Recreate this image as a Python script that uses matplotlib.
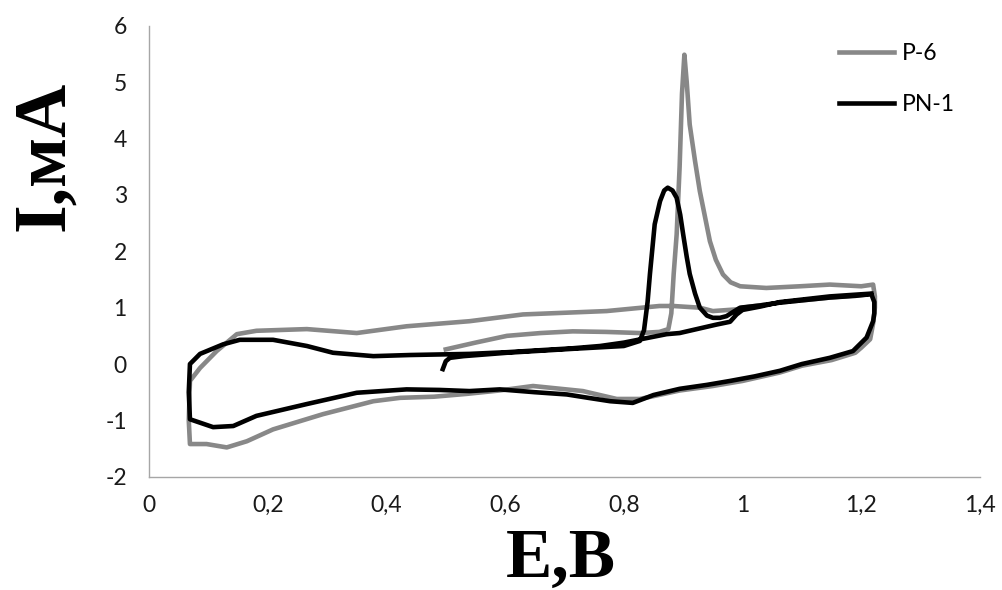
import matplotlib
matplotlib.use("Agg")
import matplotlib.pyplot as plt
from matplotlib.ticker import FuncFormatter

# P-6 (gray): first anodic scan with the peak, cathodic return, second scan
p6_E = [0.50, 0.55, 0.603, 0.66, 0.714, 0.77, 0.827, 0.86, 0.875, 0.880, 0.884, 0.889, 0.894,
        0.898, 0.902, 0.906, 0.911, 0.92, 0.928, 0.945, 0.955, 0.967, 0.98, 0.996, 1.04, 1.097,
        1.147, 1.20, 1.22,
        1.223, 1.223, 1.22, 1.215, 1.20, 1.19, 1.15, 1.10, 1.063, 1.0, 0.95, 0.894, 0.85, 0.827,
        0.788, 0.731, 0.647, 0.59, 0.535, 0.48, 0.423, 0.378, 0.293, 0.209, 0.165, 0.131, 0.097,
        0.069,
        0.067, 0.069, 0.086, 0.114, 0.148, 0.181, 0.266, 0.35, 0.434, 0.54, 0.63, 0.771, 0.86,
        0.883, 0.928, 0.95, 0.99, 1.0, 1.063, 1.147, 1.217]
p6_I = [0.26, 0.38, 0.50, 0.55, 0.58, 0.57, 0.55, 0.57, 0.62, 0.9, 1.6, 2.3, 3.5,
        4.8, 5.49, 5.0, 4.25, 3.6, 3.07, 2.18, 1.85, 1.59, 1.45, 1.38, 1.35, 1.38,
        1.41, 1.38, 1.41,
        1.2, 1.0, 0.72, 0.44, 0.29, 0.2, 0.07, -0.03, -0.15, -0.3, -0.39, -0.47, -0.57, -0.62,
        -0.62, -0.48, -0.39, -0.47, -0.53, -0.58, -0.6, -0.66, -0.89, -1.16, -1.37, -1.48, -1.42,
        -1.42,
        -1.0, -0.30, -0.07, 0.23, 0.53, 0.59, 0.62, 0.55, 0.67, 0.76, 0.88, 0.94, 1.03,
        1.03, 1.0, 0.94, 0.97, 1.0, 1.09, 1.18, 1.24]

# PN-1 (black)
pn1_E = [0.495, 0.50, 0.507, 0.53, 0.603, 0.714, 0.80, 0.827, 0.834, 0.840, 0.844, 0.852, 0.861,
         0.868, 0.874, 0.882, 0.889, 0.895, 0.90, 0.906, 0.911, 0.92, 0.928, 0.94, 0.95, 0.962,
         0.973, 0.985, 0.996, 1.03, 1.063, 1.10, 1.147, 1.19, 1.217,
         1.222, 1.222, 1.22, 1.209, 1.186, 1.147, 1.10, 1.063, 1.02, 0.979, 0.94, 0.894, 0.85,
         0.815, 0.777, 0.74, 0.704, 0.65, 0.591, 0.54, 0.49, 0.434, 0.35, 0.266, 0.181, 0.142,
         0.108, 0.069,
         0.067, 0.069, 0.086, 0.125, 0.153, 0.209, 0.266, 0.31, 0.378, 0.44, 0.49, 0.54, 0.603,
         0.714, 0.76, 0.80, 0.872, 0.894, 0.956, 0.979, 0.99, 1.0, 1.03, 1.063, 1.147, 1.217]
pn1_I = [-0.09, 0.05, 0.11, 0.14, 0.20, 0.27, 0.32, 0.41, 0.6, 1.1, 1.6, 2.48, 2.89,
         3.08, 3.13, 3.08, 2.95, 2.65, 2.3, 1.9, 1.6, 1.25, 1.0, 0.86, 0.82, 0.82,
         0.85, 0.93, 1.0, 1.04, 1.09, 1.13, 1.18, 1.21, 1.24,
         1.1, 0.9, 0.76, 0.47, 0.23, 0.11, 0.0, -0.12, -0.22, -0.30, -0.37, -0.44, -0.55,
         -0.69, -0.66, -0.6, -0.54, -0.5, -0.45, -0.48, -0.46, -0.45, -0.51, -0.71, -0.92, -1.1,
         -1.12, -0.98,
         -0.5, 0.0, 0.18, 0.35, 0.43, 0.43, 0.32, 0.2, 0.14, 0.16, 0.17, 0.18, 0.21,
         0.28, 0.32, 0.38, 0.53, 0.55, 0.70, 0.75, 0.88, 0.96, 1.02, 1.1, 1.2, 1.25]

x_ticks = [0, 0.2, 0.4, 0.6, 0.8, 1.0, 1.2, 1.4]
y_ticks = [-2, -1, 0, 1, 2, 3, 4, 5, 6]

fig = plt.figure(figsize=(10.02, 5.9), dpi=100)
ax = fig.add_axes([0.1487, 0.192, 0.8293, 0.764])

ax.plot(p6_E, p6_I, color="#888888", lw=3.3, label="P-6", solid_joinstyle="round")
ax.plot(pn1_E, pn1_I, color="black", lw=3.3, label="PN-1", solid_joinstyle="round")

ax.set_xlim(0, 1.4)
ax.set_ylim(-2, 6)
ax.set_xticks(x_ticks)
ax.set_yticks(y_ticks)

fmt = FuncFormatter(lambda v, p: ("%g" % v).replace(".", ","))
ax.xaxis.set_major_formatter(fmt)
ax.yaxis.set_major_formatter(fmt)

for s in ["top", "right"]:
    ax.spines[s].set_visible(False)
for s in ["left", "bottom"]:
    ax.spines[s].set_color("#a6a6a6")
    ax.spines[s].set_linewidth(1.0)

ax.tick_params(length=0, labelsize=16.5, labelcolor="#1a1a1a")
ax.tick_params(axis="x", pad=13)
ax.tick_params(axis="y", pad=16)
for lab in ax.get_xticklabels() + ax.get_yticklabels():
    lab.set_fontfamily("Lato")

fig.text(561 / 1002, 1 - 577 / 590, "E,B", fontsize=50, fontweight="bold",
         family="Liberation Serif", ha="center", va="baseline")
fig.text(63 / 1002, 1 - 155.5 / 590, "I,мА", fontsize=53, fontweight="bold",
         family="Liberation Serif", rotation=90, rotation_mode="anchor",
         ha="center", va="baseline")

ax.legend(loc="upper left", bbox_to_anchor=(0.830, 0.962), frameon=False,
          borderpad=0, borderaxespad=0, handlelength=2.4, handletextpad=0.35,
          labelspacing=1.3, prop={"family": "Lato", "size": 16.5})

fig.savefig("out.png", dpi=100)
